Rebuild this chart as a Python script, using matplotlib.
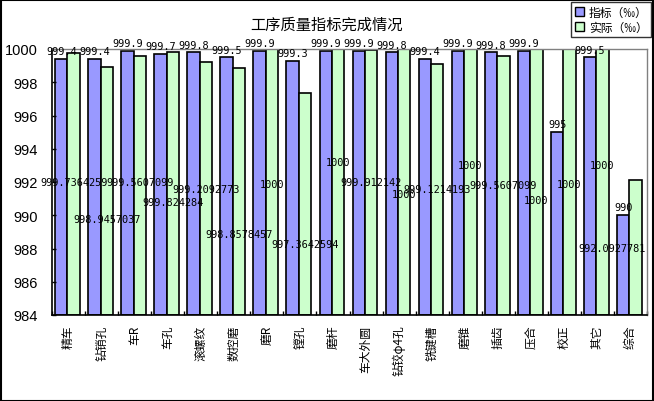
import numpy as np
import matplotlib
matplotlib.use("Agg")
import matplotlib.pyplot as plt
from matplotlib.patches import Rectangle

plt.rcParams['font.family'] = ['Noto Sans CJK SC', 'DejaVu Sans']

categories = ["精车", "钻销孔", "车R", "车孔", "滚螺纹", "数控磨", "磨R", "镗孔", "磨杆",
              "车大外圆", "钻铰φ4孔", "铣键槽", "磨锥", "插齿", "压合", "校正", "其它", "综合"]
target = [999.4, 999.4, 999.9, 999.7, 999.8, 999.5, 999.9, 999.3, 999.9,
          999.9, 999.8, 999.4, 999.9, 999.8, 999.9, 995, 999.5, 990]
actual = [999.7364259, 998.9457037, 999.5607099, 999.824284, 999.2092773, 998.8578457,
          1000, 997.3642594, 1000, 999.912142, 1000, 999.1214193, 1000, 999.5607099,
          1000, 1000, 1000, 992.0927781]
target_labels = ["999.4", "999.4", "999.9", "999.7", "999.8", "999.5", "999.9", "999.3", "999.9",
                 "999.9", "999.8", "999.4", "999.9", "999.8", "999.9", "995", "999.5", "990"]
actual_labels = ["999.7364259", "998.9457037", "999.5607099", "999.824284", "999.2092773",
                 "998.8578457", "1000", "997.3642594", "1000", "999.912142", "1000",
                 "999.1214193", "1000", "999.5607099", "1000", "1000", "1000", "992.0927781"]
# where Excel dropped the labels of the second series (axis units)
actual_label_y = [992.0, 989.8, 992.0, 990.8, 991.6, 988.9, 991.9, 988.3, 993.2,
                  992.0, 991.3, 991.6, 993.0, 991.8, 990.9, 991.9, 993.0, 988.0]

ymin, ymax = 984, 1000
blue = "#9999FF"
green = "#CCFFCC"

fig = plt.figure(figsize=(6.54, 4.02), dpi=100)
ax = fig.add_axes([52/654, 1-316/402, 595/654, 266/402])

x = np.arange(len(categories))
w = 0.375
bx = x - 0.22
gx = bx + w
ax.bar(bx, np.array(target) - ymin, w, bottom=ymin, color=blue, edgecolor="black", linewidth=1.2)
ax.bar(gx, np.array(actual) - ymin, w, bottom=ymin, color=green, edgecolor="black", linewidth=1.2)

lab_font = dict(family="DejaVu Sans Mono", fontsize=7.4, color="black")
for i in range(len(categories)):
    ax.annotate(target_labels[i], (bx[i], target[i]), xytext=(0, 2), textcoords="offset points",
                ha="center", va="bottom", annotation_clip=False, **lab_font)
    if i == len(categories) - 1:
        ax.text(len(categories) - 0.55, actual_label_y[i], actual_labels[i],
                ha="right", va="center", **lab_font)
    else:
        ax.text(gx[i], actual_label_y[i], actual_labels[i], ha="center", va="center", **lab_font)

ax.set_xlim(-0.5, len(categories) - 0.5)
ax.set_ylim(ymin, ymax)
ax.set_yticks(np.arange(ymin, ymax + 1, 2))
ax.set_yticklabels([str(v) for v in range(ymin, ymax + 1, 2)], family="Liberation Sans", fontsize=10.5)
ax.tick_params(axis="y", direction="in", length=3, width=1, pad=10)

ax.set_xticks(x)
ax.set_xticklabels(categories, rotation=90, fontsize=8.5, va="top", ha="center")
ax.tick_params(axis="x", which="major", length=0, pad=7)
ax.set_xticks(np.arange(len(categories) + 1) - 0.5, minor=True)
ax.tick_params(axis="x", which="minor", direction="in", length=3, width=1)

for s in ["top", "right"]:
    ax.spines[s].set_color("#808080")
    ax.spines[s].set_linewidth(1)
for s in ["left", "bottom"]:
    ax.spines[s].set_color("black")
    ax.spines[s].set_linewidth(1.2)

fig.text(326/654, 1-25/402, "工序质量指标完成情况", ha="center", va="center", fontsize=11)

leg = fig.legend(handles=[Rectangle((0, 0), 1, 1, facecolor=blue, edgecolor="black"),
                          Rectangle((0, 0), 1, 1, facecolor=green, edgecolor="black")],
                 labels=["指标（‰）", "实际（‰）"], loc="upper right",
                 bbox_to_anchor=(651/654, 1-3/402), fontsize=8.5, frameon=True, fancybox=False,
                 handlelength=0.8, handleheight=0.8, handletextpad=0.4, borderpad=0.3,
                 labelspacing=0.2, borderaxespad=0)
leg.get_frame().set_edgecolor("black")
leg.get_frame().set_linewidth(1)

fig.patches.append(Rectangle((0.001, 0.001), 0.997, 0.997, transform=fig.transFigure,
                             fill=False, edgecolor="black", linewidth=1.5))

fig.savefig("out.png", dpi=100)
